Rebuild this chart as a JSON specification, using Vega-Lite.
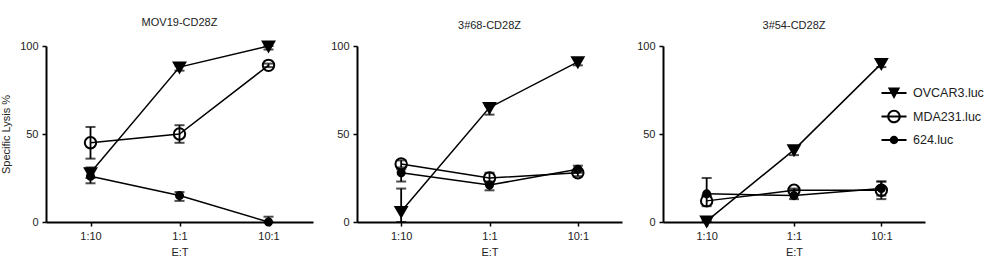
{
  "$schema": "https://vega.github.io/schema/vega-lite/v6.json",
  "background": "white",
  "padding": {"left": 0, "top": 17, "right": 5, "bottom": 5},
  "resolve": {"scale": {"shape": "independent"}, "legend": {"shape": "independent"}},
  "data": {"values": [
    {"panel": "MOV19-CD28Z", "line": "OVCAR3.luc", "ratio": "1:10", "mean": 28, "lo": 25, "hi": 31},
    {"panel": "MOV19-CD28Z", "line": "OVCAR3.luc", "ratio": "1:1", "mean": 88, "lo": 86, "hi": 89},
    {"panel": "MOV19-CD28Z", "line": "OVCAR3.luc", "ratio": "10:1", "mean": 100, "lo": 98, "hi": 100},
    {"panel": "MOV19-CD28Z", "line": "MDA231.luc", "ratio": "1:10", "mean": 45, "lo": 36, "hi": 54},
    {"panel": "MOV19-CD28Z", "line": "MDA231.luc", "ratio": "1:1", "mean": 50, "lo": 45, "hi": 55},
    {"panel": "MOV19-CD28Z", "line": "MDA231.luc", "ratio": "10:1", "mean": 89, "lo": 88, "hi": 90},
    {"panel": "MOV19-CD28Z", "line": "624.luc", "ratio": "1:10", "mean": 26, "lo": 22, "hi": 30},
    {"panel": "MOV19-CD28Z", "line": "624.luc", "ratio": "1:1", "mean": 15, "lo": 12, "hi": 17},
    {"panel": "MOV19-CD28Z", "line": "624.luc", "ratio": "10:1", "mean": 0, "lo": 0, "hi": 3},
    {"panel": "3#68-CD28Z", "line": "OVCAR3.luc", "ratio": "1:10", "mean": 6, "lo": 0, "hi": 19},
    {"panel": "3#68-CD28Z", "line": "OVCAR3.luc", "ratio": "1:1", "mean": 65, "lo": 61, "hi": 66},
    {"panel": "3#68-CD28Z", "line": "OVCAR3.luc", "ratio": "10:1", "mean": 91, "lo": 89, "hi": 93},
    {"panel": "3#68-CD28Z", "line": "MDA231.luc", "ratio": "1:10", "mean": 33, "lo": 31, "hi": 35},
    {"panel": "3#68-CD28Z", "line": "MDA231.luc", "ratio": "1:1", "mean": 25, "lo": 22, "hi": 28},
    {"panel": "3#68-CD28Z", "line": "MDA231.luc", "ratio": "10:1", "mean": 28, "lo": 26, "hi": 29},
    {"panel": "3#68-CD28Z", "line": "624.luc", "ratio": "1:10", "mean": 28, "lo": 23, "hi": 30},
    {"panel": "3#68-CD28Z", "line": "624.luc", "ratio": "1:1", "mean": 21, "lo": 18, "hi": 23},
    {"panel": "3#68-CD28Z", "line": "624.luc", "ratio": "10:1", "mean": 30, "lo": 28, "hi": 32},
    {"panel": "3#54-CD28Z", "line": "OVCAR3.luc", "ratio": "1:10", "mean": 0.5, "lo": 0, "hi": 1},
    {"panel": "3#54-CD28Z", "line": "OVCAR3.luc", "ratio": "1:1", "mean": 41, "lo": 38, "hi": 42},
    {"panel": "3#54-CD28Z", "line": "OVCAR3.luc", "ratio": "10:1", "mean": 90, "lo": 88, "hi": 92},
    {"panel": "3#54-CD28Z", "line": "MDA231.luc", "ratio": "1:10", "mean": 12, "lo": 9, "hi": 15},
    {"panel": "3#54-CD28Z", "line": "MDA231.luc", "ratio": "1:1", "mean": 18, "lo": 16, "hi": 19},
    {"panel": "3#54-CD28Z", "line": "MDA231.luc", "ratio": "10:1", "mean": 18, "lo": 13, "hi": 23},
    {"panel": "3#54-CD28Z", "line": "624.luc", "ratio": "1:10", "mean": 16, "lo": 15, "hi": 25},
    {"panel": "3#54-CD28Z", "line": "624.luc", "ratio": "1:1", "mean": 15, "lo": 13, "hi": 18},
    {"panel": "3#54-CD28Z", "line": "624.luc", "ratio": "10:1", "mean": 19, "lo": 15, "hi": 23}
  ]},
  "spacing": 17,
  "hconcat": [
    {
      "title": "MOV19-CD28Z",
      "width": 267, "height": 176,
      "transform": [{"filter": "datum.panel === 'MOV19-CD28Z'"}],
      "encoding": {
        "x": {"field": "ratio", "type": "ordinal", "sort": ["1:10", "1:1", "10:1"], "scale": {"type": "point", "padding": 0.5}, "title": "E:T"},
        "y": {"type": "quantitative", "scale": {"domain": [0, 100]}, "axis": {"values": [0, 50, 100]}, "title": "Specific Lysis %"}
      },
      "layer": [
        {"mark": {"type": "rule", "color": "black", "strokeWidth": 1.8}, "encoding": {"y": {"field": "lo", "type": "quantitative"}, "y2": {"field": "hi"}}},
        {"mark": {"type": "tick", "color": "black", "thickness": 2, "size": 10}, "encoding": {"y": {"field": "lo", "type": "quantitative"}}},
        {"mark": {"type": "tick", "color": "black", "thickness": 2, "size": 10}, "encoding": {"y": {"field": "hi", "type": "quantitative"}}},
        {"mark": {"type": "line", "color": "black", "strokeWidth": 1.5}, "encoding": {"y": {"field": "mean", "type": "quantitative"}, "detail": {"field": "line"}}},
        {"mark": {"type": "point", "stroke": "black", "strokeWidth": 2, "opacity": 1},
         "encoding": {
           "y": {"field": "mean", "type": "quantitative"},
           "shape": {"field": "line", "type": "nominal", "title": null, "scale": {"domain": ["OVCAR3.luc", "MDA231.luc", "624.luc"], "range": ["M-1,-0.8H1L0,0.95Z", "circle", "circle"]}, "legend": null},
           "size": {"field": "line", "type": "nominal", "scale": {"type": "ordinal", "domain": ["OVCAR3.luc", "MDA231.luc", "624.luc"], "range": [130, 130, 50]}, "legend": null},
           "fill": {"field": "line", "type": "nominal", "scale": {"domain": ["OVCAR3.luc", "MDA231.luc", "624.luc"], "range": ["black", "transparent", "black"]}, "legend": null}
         }}
      ]
    },
    {
      "spacing": 14,
      "resolve": {"scale": {"shape": "independent"}, "legend": {"shape": "independent"}},
      "hconcat": [
        {
          "title": "3#68-CD28Z",
          "width": 265, "height": 176,
          "transform": [{"filter": "datum.panel === '3#68-CD28Z'"}],
          "encoding": {
            "x": {"field": "ratio", "type": "ordinal", "sort": ["1:10", "1:1", "10:1"], "scale": {"type": "point", "padding": 0.5}, "title": "E:T"},
            "y": {"type": "quantitative", "scale": {"domain": [0, 100]}, "axis": {"values": [0, 50, 100]}, "title": null}
          },
          "layer": [
            {"mark": {"type": "rule", "color": "black", "strokeWidth": 1.8}, "encoding": {"y": {"field": "lo", "type": "quantitative"}, "y2": {"field": "hi"}}},
            {"mark": {"type": "tick", "color": "black", "thickness": 2, "size": 10}, "encoding": {"y": {"field": "lo", "type": "quantitative"}}},
            {"mark": {"type": "tick", "color": "black", "thickness": 2, "size": 10}, "encoding": {"y": {"field": "hi", "type": "quantitative"}}},
            {"mark": {"type": "line", "color": "black", "strokeWidth": 1.5}, "encoding": {"y": {"field": "mean", "type": "quantitative"}, "detail": {"field": "line"}}},
            {"mark": {"type": "point", "stroke": "black", "strokeWidth": 2, "opacity": 1},
             "encoding": {
               "y": {"field": "mean", "type": "quantitative"},
               "shape": {"field": "line", "type": "nominal", "title": null, "scale": {"domain": ["OVCAR3.luc", "MDA231.luc", "624.luc"], "range": ["M-1,-0.8H1L0,0.95Z", "circle", "circle"]}, "legend": null},
               "size": {"field": "line", "type": "nominal", "scale": {"type": "ordinal", "domain": ["OVCAR3.luc", "MDA231.luc", "624.luc"], "range": [130, 130, 50]}, "legend": null},
               "fill": {"field": "line", "type": "nominal", "scale": {"domain": ["OVCAR3.luc", "MDA231.luc", "624.luc"], "range": ["black", "transparent", "black"]}, "legend": null}
             }}
          ]
        },
        {
          "title": "3#54-CD28Z",
          "width": 262, "height": 176,
          "transform": [{"filter": "datum.panel === '3#54-CD28Z'"}],
          "resolve": {"scale": {"shape": "independent"}, "legend": {"shape": "independent"}},
          "encoding": {
            "x": {"field": "ratio", "type": "ordinal", "sort": ["1:10", "1:1", "10:1"], "scale": {"type": "point", "padding": 0.5}, "title": "E:T"},
            "y": {"type": "quantitative", "scale": {"domain": [0, 100]}, "axis": {"values": [0, 50, 100]}, "title": null}
          },
          "layer": [
            {"mark": {"type": "rule", "color": "black", "strokeWidth": 1.8}, "encoding": {"y": {"field": "lo", "type": "quantitative"}, "y2": {"field": "hi"}}},
            {"mark": {"type": "tick", "color": "black", "thickness": 2, "size": 10}, "encoding": {"y": {"field": "lo", "type": "quantitative"}}},
            {"mark": {"type": "tick", "color": "black", "thickness": 2, "size": 10}, "encoding": {"y": {"field": "hi", "type": "quantitative"}}},
            {"mark": {"type": "line", "color": "black", "strokeWidth": 1.5}, "encoding": {"y": {"field": "mean", "type": "quantitative"}, "detail": {"field": "line"}}},
            {"mark": {"type": "point", "stroke": "black", "strokeWidth": 2, "opacity": 1},
             "encoding": {
               "y": {"field": "mean", "type": "quantitative"},
               "shape": {"field": "line", "type": "nominal", "title": null, "scale": {"domain": ["OVCAR3.luc", "MDA231.luc", "624.luc"], "range": ["M-1,-0.8H1L0,0.95Z", "circle", "circle"]}, "legend": null},
               "size": {"field": "line", "type": "nominal", "scale": {"type": "ordinal", "domain": ["OVCAR3.luc", "MDA231.luc", "624.luc"], "range": [130, 130, 50]}, "legend": null},
               "fill": {"field": "line", "type": "nominal", "scale": {"domain": ["OVCAR3.luc", "MDA231.luc", "624.luc"], "range": ["black", "transparent", "black"]}, "legend": null}
             }},
            {"mark": {"type": "point", "filled": true, "color": "black", "opacity": 0},
             "encoding": {
               "y": {"field": "mean", "type": "quantitative"},
               "shape": {"field": "line", "type": "nominal", "title": null,
                 "scale": {"domain": ["OVCAR3.luc", "MDA231.luc", "624.luc"], "range": [
                   "M-1.25,-0.1H1.25V0.1H-1.25ZM-0.62,-0.55H0.62L0,0.6Z",
                   "M-1.25,-0.1H1.25V0.1H-1.25ZM0.68,0A0.68,0.68 0 1 1 -0.68,0A0.68,0.68 0 1 1 0.68,0ZM0.47,0A0.47,0.47 0 1 0 -0.47,0A0.47,0.47 0 1 0 0.47,0Z",
                   "M-1.25,-0.1H1.25V0.1H-1.25ZM0.42,0A0.42,0.42 0 1 1 -0.42,0A0.42,0.42 0 1 1 0.42,0Z"]},
                 "legend": {"orient": "none", "legendX": 221, "legendY": 37, "symbolSize": 400, "rowPadding": 6.5, "labelFontSize": 12.5, "labelOffset": 9,
                   "symbolFillColor": "black", "symbolStrokeWidth": 0, "symbolOpacity": 1}}
             }}
          ]
        }
      ]
    }
  ],
  "config": {
    "font": "Liberation Sans",
    "view": {"stroke": null},
    "title": {"fontSize": 11, "fontWeight": "normal", "color": "#222", "offset": 9, "anchor": "middle"},
    "axis": {"grid": false, "domainColor": "black", "domainWidth": 2, "tickColor": "black", "tickWidth": 1.5, "tickSize": 4,
      "labelFontSize": 11, "labelColor": "#222", "labelPadding": 4, "titleFontSize": 11, "titleFontWeight": "normal", "titleColor": "#222", "titlePadding": 5},
    "axisX": {"labelAngle": 0},
    "axisY": {"titlePadding": 8},
    "legend": {"labelColor": "#222"}
  }
}
